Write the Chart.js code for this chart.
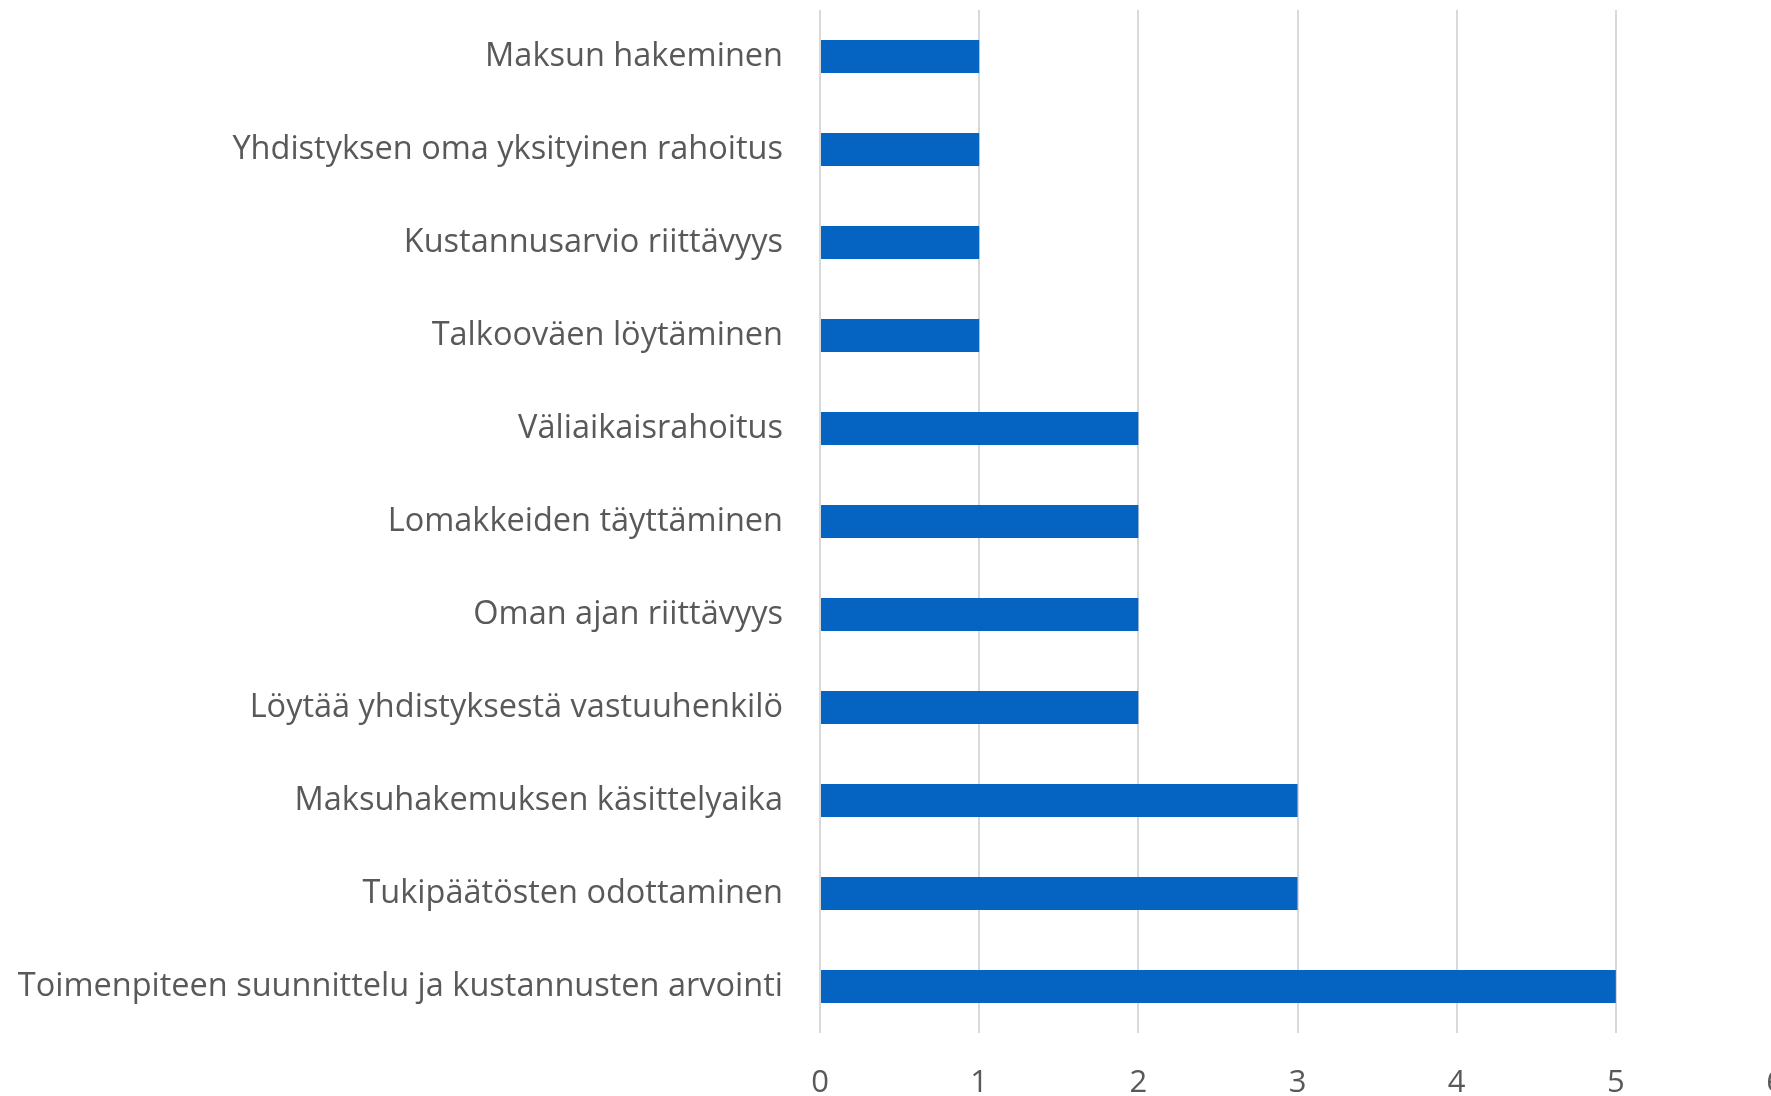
<!DOCTYPE html>
<html>
<head>
<meta charset="utf-8">
<script src="https://cdn.jsdelivr.net/npm/chart.js@4/dist/chart.umd.min.js"></script>
<style>
  html, body { margin: 0; padding: 0; background: #fff; overflow: hidden; width: 1771px; height: 1096px; }
  #wrap { position: absolute; left: 0; top: 0; width: 1800px; height: 1096px; }
</style>
</head>
<body>
<div id="wrap"><canvas id="c" width="1800" height="1096"></canvas></div>
<script>
const categories = [
  "Maksun hakeminen",
  "Yhdistyksen oma yksityinen rahoitus",
  "Kustannusarvio riittävyys",
  "Talkooväen löytäminen",
  "Väliaikaisrahoitus",
  "Lomakkeiden täyttäminen",
  "Oman ajan riittävyys",
  "Löytää yhdistyksestä vastuuhenkilö",
  "Maksuhakemuksen käsittelyaika",
  "Tukipäätösten odottaminen",
  "Toimenpiteen suunnittelu ja kustannusten arvointi"
];
const values = [1, 1, 1, 1, 2, 2, 2, 2, 3, 3, 5];
const xTicks = [0, 1, 2, 3, 4, 5, 6];

const textColor = '#595959';
const fontFamily = "'Open Sans', sans-serif";

new Chart(document.getElementById('c'), {
  type: 'bar',
  data: {
    labels: categories,
    datasets: [{
      data: values,
      backgroundColor: '#0563C1',
      borderWidth: 0,
      categoryPercentage: 1.0,
      barPercentage: 0.355
    }]
  },
  options: {
    indexAxis: 'y',
    responsive: false,
    animation: false,
    events: [],
    layout: { padding: { top: 10, right: 25, left: 0, bottom: 0 } },
    plugins: { legend: { display: false }, tooltip: { enabled: false } },
    scales: {
      x: {
        min: xTicks[0],
        max: xTicks[xTicks.length - 1],
        afterBuildTicks: (s) => { s.ticks = xTicks.map(v => ({ value: v })); },
        grid: { color: '#D9D9D9', lineWidth: 2, drawTicks: false },
        border: { display: false },
        ticks: { color: textColor, font: { family: fontFamily, size: 31 }, padding: 32 },
        afterFit: (s) => { s.height = 63; s.paddingLeft = 0; s.paddingRight = 0; }
      },
      y: {
        grid: { display: false, drawTicks: false },
        border: { display: false },
        ticks: { color: textColor, font: { family: fontFamily, size: 32.5 }, padding: 37, autoSkip: false },
        afterFit: (s) => { s.width = 820; s.paddingTop = 0; s.paddingBottom = 0; }
      }
    }
  }
});
</script>
</body>
</html>
